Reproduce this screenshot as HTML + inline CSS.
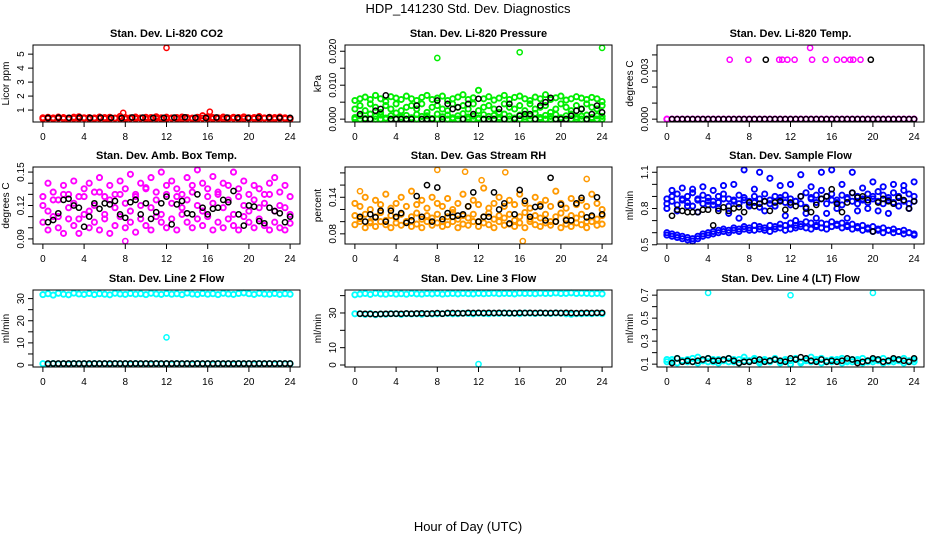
<!DOCTYPE html>
<html><head><meta charset="utf-8"><style>
html,body{margin:0;padding:0;background:#fff;}
svg{display:block;font-family:"Liberation Sans",sans-serif;}
</style></head><body>
<svg id="chart" width="936" height="540" viewBox="0 0 936 540">
<text x="468" y="13" text-anchor="middle" font-size="13">HDP_141230  Std. Dev. Diagnostics</text>
<text x="468" y="531" text-anchor="middle" font-size="13">Hour of Day (UTC)</text>
</svg>
<script>
// ---- data ----
const xTicks=[0,4,8,12,16,20,24];
const xTickLabels=['0','4','8','12','16','20','24'];

const co2Red=[0.45,0.48,0.44,0.5,0.46,0.43,0.49,0.52,0.45,0.47,0.44,0.5,0.46,0.48,0.43,0.55,0.47,0.45,0.5,0.44,0.48,0.46,0.52,0.45,0.49,0.44,0.47,0.5,0.46,0.43,0.48,0.6,0.52,0.47,0.45,0.5,0.44,0.48,0.46,0.51,0.45,0.47,0.53,0.44,0.48,0.46,0.5,0.45,0.42];
const co2Low=[0.38,0.4,0.37,0.41,0.39,0.36,0.4,0.38,0.41,0.37,0.39,0.4,0.38,0.36,0.41,0.39,0.37,0.4,0.38,0.41,0.36,0.39,0.4,0.37,0.38,0.41,0.39,0.36,0.4,0.38,0.37,0.41,0.39,0.38,0.4,0.36,0.39,0.41,0.37,0.38,0.4,0.39,0.36,0.41,0.38,0.37,0.4,0.39,0.35];
const co2Black=[0.44,0.46,0.45,0.47,0.44,0.46,0.45,0.43,0.47,0.46,0.44,0.45,0.46,0.48,0.45,0.44,0.47,0.46,0.45,0.44,0.46,0.47,0.45,0.44];
const co2OutX=[12,7.8,16.2];
const co2OutY=[5.45,0.8,0.88];

const presHigh=[0.0055,0.006,0.0065,0.0058,0.007,0.006,0.0052,0.0066,0.0062,0.0058,0.0068,0.006,0.0055,0.0064,0.007,0.0058,0.0062,0.0068,0.0055,0.006,0.0065,0.0072,0.0058,0.0063,0.0085,0.006,0.0066,0.0056,0.0062,0.007,0.0058,0.0064,0.0068,0.006,0.0055,0.0065,0.006,0.0072,0.0058,0.0063,0.0068,0.0056,0.006,0.0066,0.0062,0.0058,0.0064,0.006,0.0052];
const presMid=[0.003,0.004,0.0025,0.0045,0.0035,0.002,0.004,0.003,0.0045,0.0025,0.0035,0.004,0.003,0.0045,0.002,0.0035,0.004,0.003,0.0025,0.0045,0.0035,0.004,0.003,0.0045,0.0025,0.0035,0.004,0.003,0.002,0.0045,0.0035,0.003,0.004,0.0025,0.0045,0.003,0.0035,0.004,0.002,0.003,0.0045,0.0035,0.0025,0.004,0.003,0.0045,0.0035,0.003,0.004];
const presLow=[0.0005,0.001,0.0002,0.0015,0.0008,0.0012,0.0003,0.001,0.0018,0.0006,0.0011,0.0004,0.0014,0.0008,0.001,0.0002,0.0015,0.0007,0.0012,0.0004,0.001,0.0016,0.0006,0.0009,0.0003,0.0013,0.0008,0.0011,0.0005,0.0015,0.0009,0.0003,0.0012,0.0007,0.001,0.0017,0.0005,0.0011,0.0008,0.0013,0.0004,0.001,0.0015,0.0006,0.0009,0.0012,0.0005,0.001,0.0008];
const presBlack=[0.0015,0,0,0.0025,0.003,0.007,0,0,0,0,0,0.004,0,0,0,0.0055,0,0.0045,0.003,0.0035,0,0.0045,0.0015,0.006,0,0,0,0.003,0,0.0045,0,0.001,0.0015,0.0015,0,0.004,0.005,0.0063,0,0,0,0.001,0.0025,0.003,0,0.0015,0.004,0.002];
const presOutX=[8,16,24];
const presOutY=[0.018,0.0197,0.021];

const tempZero=[0,0,0,0,0,0,0,0,0,0,0,0,0,0,0,0,0,0,0,0,0,0,0,0,0,0,0,0,0,0,0,0,0,0,0,0,0,0,0,0,0,0,0,0,0,0,0,0,0];
const tempHiX=[6.1,7.9,10.9,11.2,11.7,12.4,13.9,14.1,15.4,16.5,17.2,17.8,18.1,18.8];
const tempHiY=[0.0037,0.0037,0.0037,0.0037,0.0037,0.0037,0.00444,0.0037,0.0037,0.0037,0.0037,0.0037,0.0037,0.0037];
const tempBlack=[0,0,0,0,0,0,0,0,0,0,0,0,0,0,0,0,0,0,0,0,0,0,0,0,0,0,0,0,0,0,0,0,0,0,0,0,0,0,0,0,0,0,0,0,0,0,0,0];
const tempBlackHiX=[9.6,19.8];
const tempBlackHiY=[0.0037,0.0037];

const boxMid=[0.12,0.115,0.125,0.11,0.13,0.118,0.122,0.108,0.128,0.115,0.12,0.132,0.112,0.125,0.118,0.13,0.122,0.115,0.128,0.12,0.135,0.118,0.125,0.112,0.13,0.122,0.128,0.118,0.125,0.132,0.12,0.115,0.128,0.122,0.13,0.118,0.125,0.112,0.128,0.12,0.115,0.125,0.118,0.122,0.13,0.115,0.12,0.118,0.112];
const boxHigh=[0.128,0.14,0.132,0.125,0.138,0.13,0.142,0.128,0.135,0.14,0.132,0.145,0.128,0.138,0.13,0.142,0.135,0.148,0.13,0.14,0.136,0.145,0.132,0.15,0.138,0.142,0.135,0.13,0.145,0.138,0.152,0.14,0.135,0.146,0.132,0.14,0.138,0.15,0.135,0.142,0.13,0.138,0.135,0.13,0.14,0.145,0.132,0.138,0.128];
const boxLow=[0.105,0.098,0.11,0.1,0.095,0.108,0.102,0.095,0.112,0.1,0.105,0.098,0.108,0.095,0.102,0.11,0.1,0.105,0.096,0.108,0.102,0.098,0.11,0.105,0.1,0.108,0.098,0.112,0.105,0.1,0.108,0.102,0.11,0.098,0.105,0.1,0.108,0.102,0.098,0.11,0.105,0.1,0.108,0.102,0.098,0.105,0.1,0.098,0.104];
const boxBlack=[0.105,0.107,0.113,0.125,0.126,0.12,0.118,0.101,0.11,0.122,0.117,0.122,0.121,0.124,0.112,0.109,0.123,0.125,0.112,0.122,0.108,0.114,0.122,0.128,0.103,0.121,0.124,0.113,0.112,0.13,0.118,0.112,0.117,0.118,0.125,0.123,0.133,0.112,0.102,0.12,0.119,0.106,0.104,0.118,0.115,0.113,0.105,0.11];
const boxOutX=[8];
const boxOutY=[0.088];

const rhMid=[0.11,0.105,0.112,0.1,0.108,0.115,0.102,0.11,0.106,0.112,0.1,0.108,0.114,0.104,0.11,0.106,0.112,0.1,0.108,0.115,0.104,0.11,0.106,0.112,0.1,0.108,0.114,0.104,0.11,0.106,0.112,0.102,0.108,0.115,0.104,0.11,0.106,0.112,0.1,0.108,0.114,0.104,0.11,0.106,0.112,0.1,0.108,0.104,0.11];
const rhHigh=[0.13,0.125,0.14,0.12,0.135,0.128,0.145,0.122,0.13,0.14,0.125,0.15,0.128,0.135,0.122,0.14,0.13,0.125,0.138,0.12,0.13,0.145,0.125,0.135,0.128,0.155,0.122,0.13,0.14,0.125,0.135,0.128,0.145,0.13,0.122,0.14,0.128,0.135,0.125,0.15,0.13,0.122,0.138,0.128,0.135,0.125,0.145,0.13,0.12];
const rhLow=[0.095,0.1,0.09,0.098,0.092,0.1,0.095,0.09,0.098,0.094,0.1,0.092,0.096,0.09,0.1,0.094,0.098,0.092,0.095,0.1,0.09,0.096,0.094,0.1,0.092,0.098,0.095,0.09,0.1,0.094,0.096,0.092,0.098,0.09,0.1,0.095,0.092,0.098,0.094,0.1,0.09,0.096,0.092,0.098,0.095,0.09,0.1,0.094,0.096];
const rhBlack=[0.108,0.1,0.112,0.107,0.118,0.1,0.118,0.108,0.114,0.098,0.102,0.142,0.108,0.16,0.1,0.156,0.104,0.114,0.108,0.11,0.112,0.125,0.148,0.1,0.108,0.108,0.148,0.12,0.13,0.097,0.112,0.152,0.134,0.108,0.124,0.125,0.102,0.172,0.1,0.128,0.102,0.102,0.13,0.139,0.107,0.11,0.14,0.112];
const rhOutX=[8,10.7,14.6,16.3,12.3,22.5,0.5];
const rhOutY=[0.185,0.182,0.181,0.068,0.168,0.17,0.15];

const flowUp1=[0.88,0.9,0.92,0.87,0.9,0.93,0.88,0.91,0.89,0.86,0.9,0.92,0.88,0.87,0.91,0.89,0.86,0.9,0.88,0.92,0.87,0.9,0.89,0.91,0.88,0.86,0.9,0.93,0.89,0.91,0.88,0.9,0.92,0.87,0.91,0.89,0.93,0.9,0.88,0.92,0.9,0.94,0.91,0.89,0.93,0.9,0.95,0.92,0.9];
const flowUp2=[0.84,0.86,0.83,0.88,0.85,0.82,0.87,0.84,0.86,0.83,0.85,0.88,0.82,0.86,0.84,0.87,0.83,0.85,0.81,0.86,0.84,0.82,0.87,0.85,0.83,0.86,0.84,0.81,0.88,0.85,0.95,0.84,0.87,0.85,0.83,0.88,0.86,0.84,0.87,0.85,0.88,0.86,0.84,0.87,0.85,0.89,0.86,0.84,0.86];
const flowScat=[0.8,0.95,0.78,0.97,0.82,0.96,0.77,0.98,0.83,0.95,0.8,0.99,0.76,1.0,0.72,1.12,0.82,0.96,1.1,0.78,1.05,0.82,0.99,0.74,1.0,0.7,1.08,0.76,0.98,0.72,1.1,0.76,1.12,0.8,1.0,0.72,1.1,0.78,0.97,0.8,1.02,0.78,0.98,0.76,1.0,0.82,0.99,0.8,1.02];
const flowLo1=[0.58,0.57,0.56,0.55,0.54,0.53,0.55,0.57,0.58,0.59,0.6,0.61,0.6,0.62,0.61,0.63,0.62,0.62,0.63,0.62,0.61,0.63,0.64,0.62,0.63,0.64,0.65,0.64,0.63,0.65,0.64,0.63,0.65,0.66,0.64,0.65,0.63,0.64,0.62,0.63,0.61,0.62,0.6,0.62,0.6,0.61,0.59,0.6,0.58];
const flowLo2=[0.6,0.59,0.58,0.57,0.56,0.55,0.57,0.59,0.6,0.61,0.62,0.63,0.62,0.64,0.63,0.65,0.64,0.66,0.65,0.64,0.66,0.65,0.67,0.66,0.68,0.66,0.67,0.69,0.68,0.66,0.68,0.67,0.69,0.67,0.68,0.66,0.67,0.65,0.66,0.64,0.65,0.63,0.64,0.62,0.63,0.61,0.62,0.6,0.59];
const flowBlack=[0.74,0.79,0.78,0.77,0.77,0.77,0.79,0.79,0.66,0.78,0.81,0.78,0.8,0.81,0.77,0.85,0.82,0.84,0.86,0.78,0.85,0.86,0.79,0.85,0.82,0.9,0.8,0.77,0.83,0.88,0.9,0.96,0.84,0.77,0.85,0.93,0.89,0.9,0.87,0.61,0.85,0.88,0.86,0.84,0.89,0.87,0.8,0.86];

const l2Top=[31.8,32.2,31.6,32.4,32.0,31.7,32.5,32.1,31.9,32.3,31.8,32.2,32.0,31.7,32.4,32.1,31.9,32.3,32.0,32.2,31.8,32.4,32.1,31.9,32.3,32.0,32.2,31.8,32.5,32.1,31.9,32.3,32.0,32.2,31.8,32.4,32.1,31.9,32.3,32.6,32.2,31.9,32.4,32.1,32.0,32.3,31.9,32.2,32.0];
const l2Bot=[0.6,0.4,0.7,0.5,0.6,0.4,0.7,0.5,0.6,0.4,0.7,0.5,0.6,0.4,0.7,0.5,0.6,0.4,0.7,0.5,0.6,0.4,0.7,0.5,0.6,0.4,0.7,0.5,0.6,0.4,0.7,0.5,0.6,0.4,0.7,0.5,0.6,0.4,0.7,0.5,0.6,0.4,0.7,0.5,0.6,0.4,0.7,0.5,0.6];
const l2Black=[0.7,0.7,0.7,0.7,0.7,0.7,0.7,0.7,0.7,0.7,0.7,0.7,0.7,0.7,0.7,0.7,0.7,0.7,0.7,0.7,0.7,0.7,0.7,0.7,0.7,0.7,0.7,0.7,0.7,0.7,0.7,0.7,0.7,0.7,0.7,0.7,0.7,0.7,0.7,0.7,0.7,0.7,0.7,0.7,0.7,0.7,0.7,0.7];
const l2OutX=[12];
const l2OutY=[12.5];

const l3Top=[40.5,40.9,41.2,40.7,41.4,41.0,40.8,41.2,40.9,41.1,40.8,41.3,41.0,40.9,41.2,41.0,41.3,40.9,41.1,41.2,41.0,41.3,41.1,41.0,41.3,41.1,41.2,41.4,41.1,41.3,41.2,41.0,41.4,41.2,41.3,41.1,41.4,41.2,41.3,41.5,41.2,41.3,41.6,41.2,41.4,41.3,41.1,41.3,41.0];
const l3Mid=[29.5,29.5,29.2,29.6,29.0,29.4,29.3,29.6,29.5,29.2,29.6,29.4,29.5,29.3,29.6,29.4,29.5,29.6,29.7,29.5,29.6,29.8,29.7,29.5,29.8,29.7,29.6,29.8,29.7,29.9,29.7,29.8,29.6,29.9,29.8,29.7,29.9,29.8,29.7,29.9,29.8,29.5,29.3,29.6,29.5,29.7,29.6,29.8,29.6];
const l3Black=[29.6,29.5,29.4,29.3,29.4,29.5,29.5,29.6,29.5,29.7,29.6,29.7,29.8,29.6,29.7,29.9,29.6,30.0,30.0,29.9,29.8,30.1,30.0,30.1,30.0,30.1,30.0,30.1,30.0,30.0,29.9,30.1,30.0,30.1,30.0,30.1,30.0,30.0,30.1,30.0,30.1,30.0,29.9,30.0,30.1,30.0,30.1,30.1];
const l3OutX=[12];
const l3OutY=[0.5];

const l4Cy1=[0.14,0.12,0.15,0.13,0.14,0.12,0.16,0.13,0.15,0.12,0.14,0.13,0.15,0.12,0.14,0.16,0.13,0.15,0.12,0.14,0.13,0.15,0.12,0.14,0.13,0.15,0.12,0.14,0.16,0.13,0.15,0.12,0.14,0.13,0.15,0.12,0.14,0.13,0.15,0.12,0.14,0.13,0.15,0.12,0.14,0.13,0.15,0.12,0.14];
const l4Cy2=[0.12,0.14,0.11,0.13,0.12,0.15,0.11,0.13,0.12,0.14,0.11,0.13,0.12,0.14,0.11,0.13,0.12,0.14,0.11,0.13,0.12,0.14,0.11,0.13,0.1,0.14,0.11,0.13,0.12,0.14,0.11,0.13,0.12,0.14,0.11,0.13,0.12,0.14,0.11,0.13,0.12,0.14,0.11,0.13,0.12,0.14,0.11,0.13,0.12];
const l4Black=[0.11,0.15,0.12,0.13,0.12,0.13,0.14,0.15,0.13,0.13,0.14,0.15,0.13,0.11,0.12,0.12,0.13,0.14,0.12,0.13,0.14,0.13,0.12,0.15,0.14,0.16,0.15,0.13,0.12,0.14,0.12,0.13,0.12,0.13,0.15,0.14,0.11,0.12,0.13,0.15,0.14,0.12,0.13,0.15,0.14,0.13,0.12,0.15];
const l4OutX=[4,12,20];
const l4OutY=[0.72,0.70,0.72];

// ---- rendering ----
const NS='http://www.w3.org/2000/svg';
const svg=document.getElementById('chart');
const colX=[33,345,657], rowY=[45,167,290], BW=267, BH=77;
function mk(tag,attrs,parent){const e=document.createElementNS(NS,tag);for(const k in attrs)e.setAttribute(k,attrs[k]);(parent||svg).appendChild(e);return e;}

const panels=[
 {title:'Stan. Dev. Li-820 CO2',ylab:'Licor ppm',col:'#ff0000',yT:[1,2,3,4,5],yL:['1','2','3','4','5'],
  colored:[[co2Low,0,24],[co2Red,0,24]],coloredPts:[[co2OutX,co2OutY]],black:[[co2Black,0.5,24]],blackPts:[]},
 {title:'Stan. Dev. Li-820 Pressure',ylab:'kPa',col:'#00ee00',yT:[0,0.005,0.01,0.015,0.02],yL:['0.000','','0.010','','0.020'],
  colored:[[presLow,0,24],[presMid,0,24],[presHigh,0,24],[tempZero,0,24]],coloredPts:[[presOutX,presOutY]],black:[[presBlack,0.5,24]],blackPts:[]},
 {title:'Stan. Dev. Li-820 Temp.',ylab:'degrees C',col:'#ff00ff',yT:[0,0.001,0.002,0.003,0.004],yL:['0.000','','','0.003',''],
  colored:[[tempZero,0,24]],coloredPts:[[tempHiX,tempHiY]],black:[[tempBlack,0.5,24]],blackPts:[[tempBlackHiX,tempBlackHiY]]},
 {title:'Stan. Dev. Amb. Box Temp.',ylab:'degrees C',col:'#ff00ff',yT:[0.09,0.1,0.11,0.12,0.13,0.14,0.15],yL:['0.09','','','0.12','','','0.15'],
  colored:[[boxLow,0,24],[boxHigh,0,24],[boxMid,0,24]],coloredPts:[[boxOutX,boxOutY]],black:[[boxBlack,0.5,24]],blackPts:[]},
 {title:'Stan. Dev. Gas Stream RH',ylab:'percent',col:'#ff9900',yT:[0.08,0.1,0.12,0.14,0.16,0.18],yL:['0.08','','','0.14','',''],
  colored:[[rhLow,0,24],[rhHigh,0,24],[rhMid,0,24]],coloredPts:[[rhOutX,rhOutY]],black:[[rhBlack,0.5,24]],blackPts:[]},
 {title:'Stan. Dev. Sample Flow',ylab:'ml/min',col:'#0000ff',yT:[0.5,0.6,0.7,0.8,0.9,1.0,1.1],yL:['0.5','','','0.8','','','1.1'],
  colored:[[flowScat,0,24],[flowUp1,0,24],[flowUp2,0,24],[flowLo1,0,24],[flowLo2,0,24]],coloredPts:[],black:[[flowBlack,0.5,24]],blackPts:[]},
 {title:'Stan. Dev. Line 2 Flow',ylab:'ml/min',col:'#00ffff',yT:[0,5,10,15,20,25,30],yL:['0','','10','','20','','30'],
  colored:[[l2Top,0,24],[l2Bot,0,24]],coloredPts:[[l2OutX,l2OutY]],black:[[l2Black,0.5,24]],blackPts:[]},
 {title:'Stan. Dev. Line 3 Flow',ylab:'ml/min',col:'#00ffff',yT:[0,10,20,30,40],yL:['0','10','','30',''],
  colored:[[l3Top,0,24],[l3Mid,0,24]],coloredPts:[[l3OutX,l3OutY]],black:[[l3Black,0.5,24]],blackPts:[]},
 {title:'Stan. Dev. Line 4 (LT) Flow',ylab:'ml/min',col:'#00ffff',yT:[0.1,0.2,0.3,0.4,0.5,0.6,0.7],yL:['0.1','','0.3','','0.5','','0.7'],
  colored:[[l4Cy1,0,24],[l4Cy2,0,24]],coloredPts:[[l4OutX,l4OutY]],black:[[l4Black,0.5,24]],blackPts:[]}
];

panels.forEach((p,i)=>{
  const bx=colX[i%3], by=rowY[Math.floor(i/3)];
  const g=mk('g',{});
  
  
  let all=[];
  p.colored.concat(p.black).forEach(s=>all=all.concat(s[0]));
  p.coloredPts.concat(p.blackPts).forEach(s=>all=all.concat(s[1]));
  let ymin=Math.min(...all), ymax=Math.max(...all);
  const yr=ymax-ymin||1; const y0=ymin-0.04*yr, y1=ymax+0.04*yr;
  const x0=-0.96, x1=24.96;
  const sx=v=>bx+(v-x0)/(x1-x0)*BW;
  const sy=v=>by+BH-(v-y0)/(y1-y0)*BH;
  const t=mk('text',{x:bx+BW/2,y:by-8,'text-anchor':'middle','font-size':'11','font-weight':'bold'},g);
  t.textContent=p.title;
  
  
  const yl=mk('text',{x:0,y:0,'text-anchor':'middle','font-size':'10',transform:`translate(${bx-24},${by+BH/2}) rotate(-90)`},g);
  yl.textContent=p.ylab;
  
  
  const pts=mk('g',{fill:'none'},g);
  function dot(x,y,c,w){const e=mk('circle',{cx:sx(x).toFixed(1),cy:sy(y).toFixed(1),r:'2.6',stroke:c,'stroke-width':w},pts);
    
    }
  p.colored.forEach(s=>{const v=s[0],n=v.length;v.forEach((y,k)=>dot(s[1]+(s[2]-s[1])*k/(n-1),y,p.col,1.9));});
  p.coloredPts.forEach(s=>s[0].forEach((x,k)=>dot(x,s[1][k],p.col,1.5)));
  p.black.forEach(s=>{const v=s[0],n=v.length;v.forEach((y,k)=>dot(s[1]+(s[2]-s[1])*k/(n-1),y,'#000',1.5));});
  p.blackPts.forEach(s=>s[0].forEach((x,k)=>dot(x,s[1][k],'#000',1.5)));
  const box=mk('rect',{x:bx,y:by,width:BW,height:BH,fill:'none',stroke:'#000','stroke-width':'1'},g);
  
  
  mk('line',{x1:sx(0),x2:sx(24),y1:by+BH,y2:by+BH,stroke:'#000'},g);
  xTicks.forEach((v,k)=>{
    mk('line',{x1:sx(v),x2:sx(v),y1:by+BH,y2:by+BH+5,stroke:'#000'},g);
    const l=mk('text',{x:sx(v),y:by+BH+18,'text-anchor':'middle','font-size':'10'},g);
    l.textContent=xTickLabels[k];
    
    
  });
  mk('line',{x1:bx,x2:bx,y1:sy(p.yT[0]),y2:sy(p.yT[p.yT.length-1]),stroke:'#000'},g);
  p.yT.forEach((v,k)=>{
    mk('line',{x1:bx-5,x2:bx,y1:sy(v),y2:sy(v),stroke:'#000'},g);
    if(p.yL[k]){const l=mk('text',{x:0,y:0,'text-anchor':'middle','font-size':'10',transform:`translate(${bx-9},${sy(v)}) rotate(-90)`},g);
      l.textContent=p.yL[k];
      
      }
  });
});
</script>
</body></html>
